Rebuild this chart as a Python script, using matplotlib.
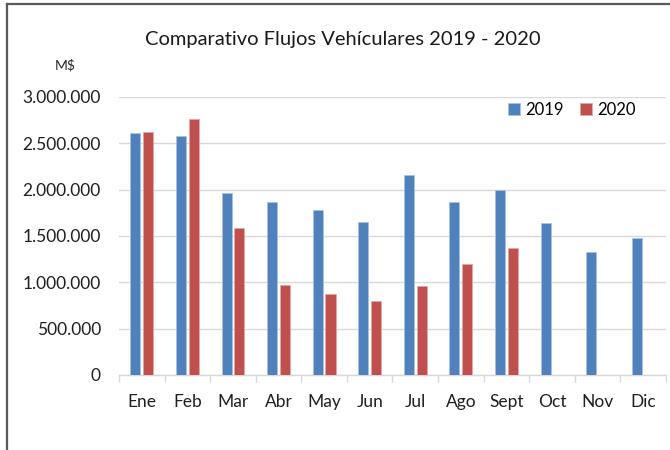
import numpy as np
import matplotlib
matplotlib.use("Agg")
import matplotlib.pyplot as plt
from matplotlib.lines import Line2D
from matplotlib.ticker import FixedLocator, FuncFormatter

plt.rcParams['font.family'] = ['Lato', 'DejaVu Sans']

meses = ['Ene', 'Feb', 'Mar', 'Abr', 'May', 'Jun', 'Jul', 'Ago', 'Sept', 'Oct', 'Nov', 'Dic']
flujo_2019 = [2610000, 2574000, 1966000, 1865000, 1775000, 1656000,
              2153000, 1872000, 1998000, 1638000, 1332000, 1480000]
flujo_2020 = [2617000, 2765000, 1591000, 972000, 871000, 803000,
              961000, 1195000, 1368000]
y_ticks = [0, 500000, 1000000, 1500000, 2000000, 2500000, 3000000]

azul = '#4F81BD'
rojo = '#C0504D'
gris = '#D9D9D9'

fig = plt.figure(figsize=(6.7, 4.5), dpi=100)
ax = fig.add_axes([0.1776, 0.1667, 0.8164, 0.6178])

x = np.arange(len(meses))
w = 0.22
ax.bar(x - 0.14, flujo_2019, width=w, color=azul, edgecolor='#A9C1E0', linewidth=0.6, zorder=3, label='2019')
ax.bar(x[:len(flujo_2020)] + 0.14, flujo_2020, width=w, color=rojo, edgecolor='#E3A9A7',
       linewidth=0.6, zorder=3, label='2020')

ax.set_xlim(-0.5, 11.5)
ax.set_ylim(0, 3000000)
ax.set_yticks(y_ticks)
ax.yaxis.set_major_formatter(FuncFormatter(lambda v, p: f'{int(v):,}'.replace(',', '.')))
ax.set_xticks(x)
ax.set_xticklabels(meses)
ax.xaxis.set_minor_locator(FixedLocator(np.arange(-0.5, 12, 1)))

ax.grid(axis='y', color=gris, linewidth=1.0, zorder=0)
for s in ['top', 'right', 'left']:
    ax.spines[s].set_visible(False)
ax.spines['bottom'].set_color(gris)
ax.spines['bottom'].set_linewidth(1.0)

ax.tick_params(axis='y', length=0, pad=13, labelsize=12.5, labelcolor='#1f1f1f')
ax.tick_params(axis='x', which='major', length=0, pad=14, labelsize=12.5, labelcolor='#1f1f1f')
ax.tick_params(axis='x', which='minor', length=5, color=gris, width=1.0)

ax.legend(loc='center', bbox_to_anchor=(0.828, 0.954), ncol=2, frameon=False,
          fontsize=12, handlelength=0.7, handleheight=0.8, handletextpad=0.3,
          columnspacing=1.0, borderpad=0.2)

fig.text(0.512, 0.912, 'Comparativo Flujos Vehículares 2019 - 2020',
         ha='center', va='center', fontsize=14.5, color='#1a1a1a')
fig.text(0.097, 0.855, 'M$', ha='center', va='center', fontsize=10, color='#262626')

# marco del recuadro
fig.add_artist(Line2D([0.0098, 0.0098], [0.0, 0.991], color='#595959', linewidth=1.6,
                      transform=fig.transFigure))
fig.add_artist(Line2D([0.0098, 1.0], [0.991, 0.991], color='#595959', linewidth=1.6,
                      transform=fig.transFigure))

fig.savefig('out.png', dpi=100)
